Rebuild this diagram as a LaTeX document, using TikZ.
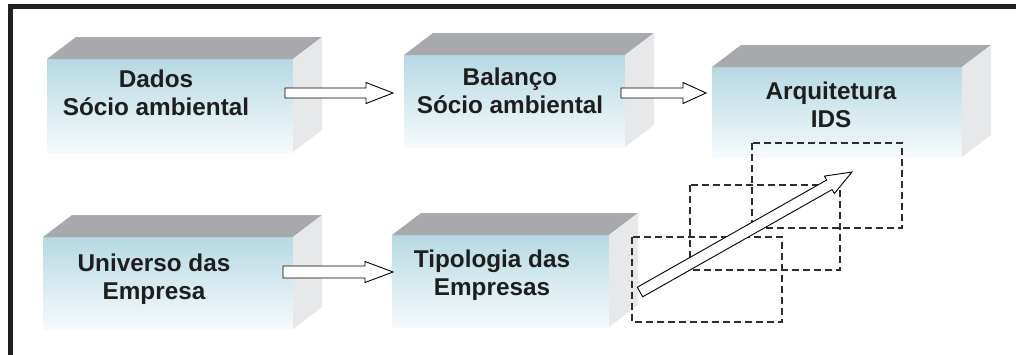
\documentclass[tikz,border=0pt]{standalone}
\usepackage{fontspec}
\setmainfont{Liberation Sans}
\usetikzlibrary{calc}
\definecolor{topgray}{RGB}{167,169,172}
\definecolor{sidegray}{RGB}{231,232,234}
\definecolor{faceblue}{RGB}{182,217,227}
\definecolor{facewhite}{RGB}{246,250,252}
\definecolor{framecol}{RGB}{35,31,32}
\definecolor{textcol}{RGB}{30,30,30}
\definecolor{dashcol}{RGB}{45,45,45}
\tikzset{
  face/.style={rectangle, inner sep=0pt, outer sep=0pt, top color=faceblue, bottom color=facewhite, draw=none},
  topface/.style={fill=topgray},
  sideface/.style={fill=sidegray},
  lbl/.style={align=center, text=textcol, inner sep=0pt, font=\fontsize{24.3}{28}\selectfont\bfseries},
  blockarrow/.style={draw=black, fill=white, line width=0.9pt, line join=miter},
  dashbox/.style={draw=dashcol, line width=1.3pt, dash pattern=on 7pt off 4pt},
  framestyle/.style={draw=framecol, line width=5pt}
}
\newcommand\cube[4]{%
  \node[face, minimum width=#3pt, minimum height=#4pt] (#1) at (#2) {};
  \fill[topface] (#1.north west) -- ++(29,-22) -- ($(#1.north east)+(29,-22)$) -- (#1.north east) -- cycle;
  \fill[sideface] (#1.north east) -- ++(29,-22) -- ($(#1.south east)+(29,-22)$) -- (#1.south east) -- cycle;
}
\newcommand\blockarrow[5]{%
  \path ($(#2)!#3!(#1)$) coordinate (hb);
  \draw[blockarrow] ($(#1)!#4!90:(#2)$) -- ($(hb)!#4!90:(#2)$) -- ($(hb)!#5!90:(#2)$) -- (#2)
     -- ($(hb)!#5!-90:(#2)$) -- ($(hb)!#4!-90:(#2)$) -- ($(#1)!#4!-90:(#2)$) -- cycle;
}
\begin{document}
\begin{tikzpicture}[x=1pt,y=-1pt]
\useasboundingbox (0,0) rectangle (1016,354);
\fill[white] (0,0) rectangle (1016,354);
% frame
\draw[framestyle] (7.5,6.5) -- (1030,6.5);
\draw[framestyle] (10,4) -- (10,370);
% boxes
\cube{b1}{170,105.5}{246}{93}
\cube{b2}{514.5,101}{221}{92}
\cube{b3}{837,112}{250}{90}
\cube{b4}{168,283}{250}{92}
\cube{b5}{500.5,281}{217}{92}
% labels (base = baseline of last line)
\node[lbl, anchor=base] (t1) at (156,115) {Dados\\Sócio ambiental};
\node[lbl, anchor=base] (t2) at (510,113) {Balanço\\Sócio ambiental};
\node[lbl, anchor=base] (t3) at (831,127) {Arquitetura\\IDS};
\node[lbl, anchor=base] (t4) at (154,299) {Universo das\\Empresa};
\node[lbl, anchor=base] (t5) at (492,295) {Tipologia das\\Empresas};
% dashed boxes
\draw[dashbox] (752,143) rectangle (902,228);
\draw[dashbox] (690,185) rectangle (840,270);
\draw[dashbox] (632,237) rectangle (782,322);
% arrow end points
\coordinate (a1s) at (285,93);
\coordinate (a1e) at (393,93);
\coordinate (a2s) at (621,93);
\coordinate (a2e) at (706,93);
\coordinate (a3s) at (283,272);
\coordinate (a3e) at (393,272);
\coordinate (a4s) at (640,292);
\coordinate (a4e) at (852,172);
\blockarrow{a1s}{a1e}{27pt}{5pt}{10.5pt}
\blockarrow{a2s}{a2e}{23pt}{5pt}{10.5pt}
\blockarrow{a3s}{a3e}{28pt}{6pt}{10.5pt}
\blockarrow{a4s}{a4e}{26pt}{5.5pt}{10pt}
\end{tikzpicture}
\end{document}
